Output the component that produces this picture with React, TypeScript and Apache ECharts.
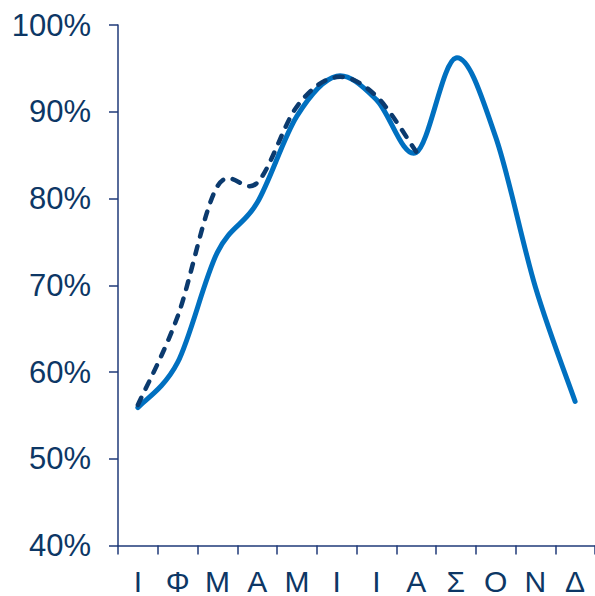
import React, { useEffect, useRef } from "react";
import * as echarts from "echarts";

const months = ["Ι", "Φ", "Μ", "Α", "Μ", "Ι", "Ι", "Α", "Σ", "Ο", "Ν", "Δ"];
const solidValues = [55.9, 61.1, 73.8, 79.5, 89.5, 94.1, 91.4, 85.3, 96.2, 87.1, 69.8, 56.6];
const dashedValues = [56.2, 66.4, 81.4, 81.8, 90.6, 94.0, 91.8, 85.4];
const yTicks = { min: 40, max: 100, interval: 10 };

const FONT = "'Liberation Sans', Arial, sans-serif";
const TEXT = "#0D3765";
const AXIS = "#1F3A78";

function splinePath(pts: number[][]): string {
  if (!pts.length) return "";
  let d = `M${pts[0][0]},${pts[0][1]}`;
  for (let i = 0; i < pts.length - 1; i++) {
    const p0 = pts[Math.max(0, i - 1)];
    const p1 = pts[i];
    const p2 = pts[i + 1];
    const p3 = pts[Math.min(pts.length - 1, i + 2)];
    const c1x = p1[0] + (p2[0] - p0[0]) / 6;
    const c1y = p1[1] + (p2[1] - p0[1]) / 6;
    const c2x = p2[0] - (p3[0] - p1[0]) / 6;
    const c2y = p2[1] - (p3[1] - p1[1]) / 6;
    d += ` C${c1x},${c1y} ${c2x},${c2y} ${p2[0]},${p2[1]}`;
  }
  return d;
}

function splineSeries(values: number[], style: any, z: number) {
  return {
    type: "custom",
    coordinateSystem: "cartesian2d",
    silent: true,
    z,
    data: values.map((v, i) => [i, v]),
    renderItem: (params: any, api: any) => {
      if (params.dataIndex !== 0) return null;
      const pts = values.map((v, i) => api.coord([i, v]));
      return {
        type: "path",
        shape: { pathData: splinePath(pts) },
        style: { fill: "none", ...style },
      };
    },
  };
}

export default function App() {
  const ref = useRef<HTMLDivElement>(null);
  useEffect(() => {
    if (!ref.current) return;
    const chart = echarts.init(ref.current, undefined, { renderer: "svg" });
    chart.setOption({
      animation: false,
      grid: { left: 118, right: 0, top: 25, bottom: 50, containLabel: false },
      xAxis: {
        type: "category",
        data: months,
        boundaryGap: true,
        axisLine: { lineStyle: { color: AXIS, width: 1.5 } },
        axisTick: { show: true, length: 9, lineStyle: { color: AXIS, width: 1.5 } },
        axisLabel: { color: TEXT, fontSize: 30, lineHeight: 29, fontFamily: FONT, margin: 21, interval: 0 },
        splitLine: { show: false },
      },
      yAxis: {
        type: "value",
        min: yTicks.min,
        max: yTicks.max,
        interval: yTicks.interval,
        axisLine: { show: true, lineStyle: { color: AXIS, width: 1.5 } },
        axisTick: { show: true, length: 9, lineStyle: { color: AXIS, width: 1.5 } },
        axisLabel: { color: TEXT, fontSize: 31, fontFamily: FONT, margin: 27, formatter: "{value}%" },
        splitLine: { show: false },
      },
      series: [
        splineSeries(solidValues, { stroke: "#0070C0", lineWidth: 5, lineCap: "round", lineJoin: "round" }, 2),
        splineSeries(
          dashedValues,
          { stroke: "#0B3A6E", lineWidth: 4.5, lineDash: [8, 10], lineCap: "round", lineJoin: "round" },
          3
        ),
      ],
    });
    return () => chart.dispose();
  }, []);
  return <div ref={ref} style={{ width: 595, height: 596, position: "absolute", left: 0, top: 0 }} />;
}
